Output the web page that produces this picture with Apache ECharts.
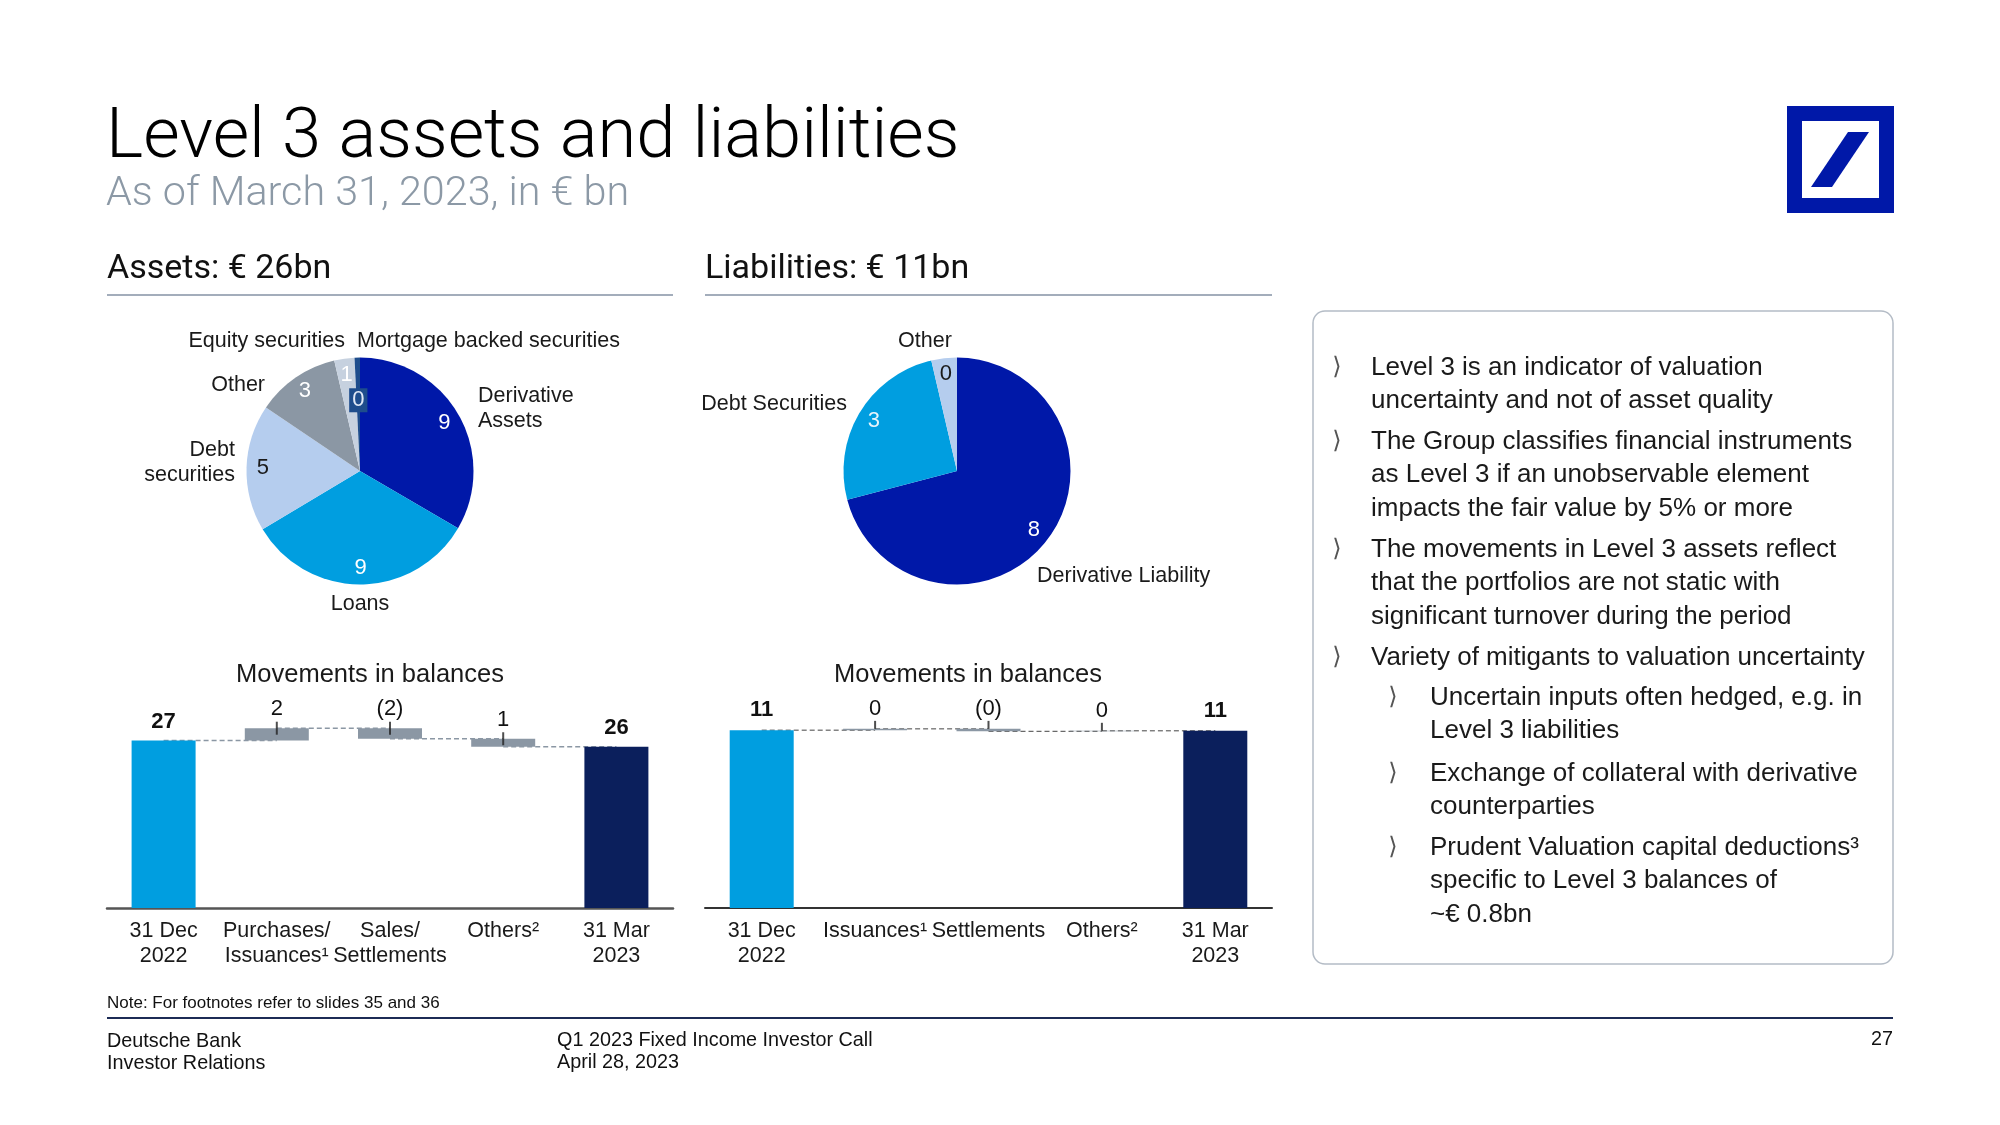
<!DOCTYPE html>
<html><head><meta charset="utf-8">
<script src="https://cdn.jsdelivr.net/npm/echarts@6/dist/echarts.min.js"></script>
<style>html,body{margin:0;padding:0;background:#fff}#c{width:2000px;height:1125px}</style>
</head><body><div id="c"></div>
<script>
// ---------- DATA ----------
const assetNames = ['Derivative\nAssets', 'Loans', 'Debt\nsecurities', 'Other', 'Equity securities', 'Mortgage backed securities'];
const assetValues = [8.7, 8.6, 4.7, 3.1, 0.75, 0.2];
const liabNames = ['Derivative Liability', 'Debt Securities', 'Other'];
const liabValues = [7.8, 2.8, 0.4];

const assetCats = ['31 Dec\n2022', 'Purchases/\nIssuances¹', 'Sales/\nSettlements', 'Others²', '31 Mar\n2023'];
const assetStart = 27.0;
const assetDeltas = [2.0, -1.7, -1.3];
const assetEnd = 26.0;
const assetBarLabels = ['27', '2', '(2)', '1', '26'];

const liabCats = ['31 Dec\n2022', 'Issuances¹', 'Settlements', 'Others²', '31 Mar\n2023'];
const liabStart = 11.0;
const liabDeltas = [0.08, -0.15, 0.03];
const liabEnd = 10.96;
const liabBarLabels = ['11', '0', '(0)', '0', '11'];

// ---------- STYLE ----------
const F = '"Liberation Sans", Arial, sans-serif';
const DBBLUE = '#0018a8', CYAN = '#009ee0', NAVY = '#0b1f5c', GRAY = '#8b97a4';
const assetColors = [DBBLUE, CYAN, '#b5cdee', GRAY, '#c6d1df', '#1e4d8c'];
const assetNumColors = ['#ffffff', '#ffffff', '#1a1a1a', '#ffffff', '#ffffff', '#e0e8f5'];
const liabColors = [DBBLUE, CYAN, '#b5cdee'];
const liabNumColors = ['#ffffff', '#e6f4fb', '#1a1a1a'];
const assetNamePos = [[478, 409, 'left'], [360, 604, 'center'], [235, 463, 'right'], [265, 385, 'right'], [345, 341, 'right'], [357, 341, 'left']];
const liabNamePos = [[1037, 576, 'left'], [847, 404, 'right'], [925, 341, 'center']];
const A_CENTER = [360, 471], L_CENTER = [957, 471], R = 113.5;

function waterfall(start, deltas, end) {
  const base = [0], vis = [start], levels = [start], ticks = [];
  let run = start;
  deltas.forEach((d, i) => {
    const nxt = run + d;
    base.push(Math.min(run, nxt));
    vis.push(Math.abs(d));
    ticks.push([i + 1, Math.max(run, nxt)]);
    run = nxt;
    levels.push(run);
  });
  base.push(0); vis.push(end);
  return { base, vis, levels, ticks };
}

function pieSeries(center, names, values, colors, numColors, namePos) {
  return [
    {
      type: 'pie', center, radius: R, startAngle: 90, clockwise: true, avoidLabelOverlap: false,
      silent: true, emphasis: { disabled: true }, z: 2,
      data: names.map((n, i) => ({ name: n, value: values[i], itemStyle: { color: colors[i] } })),
      label: { show: true, position: 'outside', formatter: '{b}', fontFamily: F, fontSize: 21.5, lineHeight: 25, color: '#1a1a1a' },
      labelLine: { show: false },
      labelLayout: p => { const q = namePos[p.dataIndex]; return { x: q[0], y: q[1], align: q[2], verticalAlign: 'middle' }; }
    },
    {
      type: 'pie', center, radius: [R * 0.66, R], startAngle: 90, clockwise: true, avoidLabelOverlap: false,
      silent: true, emphasis: { disabled: true }, z: 3,
      data: names.map((n, i) => ({
        name: n, value: values[i], itemStyle: { color: 'rgba(0,0,0,0)' },
        label: { show: !(names.length === 6 && i === 5), color: numColors[i] }
      })),
      label: { show: true, position: 'inside', formatter: p => String(Math.round(p.value)), fontFamily: F, fontSize: 22 },
      labelLine: { show: false }
    }
  ];
}

function wfSeries(idx, wf, labels, floatColor, connColor, connW, tickSize, tickOffset, dist) {
  const out = [];
  out.push({
    type: 'bar', xAxisIndex: idx, yAxisIndex: idx, stack: 's' + idx, barWidth: 64, silent: true, z: 3,
    itemStyle: { color: 'rgba(0,0,0,0)' }, data: wf.base, emphasis: { disabled: true }
  });
  out.push({
    type: 'bar', xAxisIndex: idx, yAxisIndex: idx, stack: 's' + idx, barWidth: 64, silent: true, z: 3,
    emphasis: { disabled: true },
    data: wf.vis.map((v, i) => ({
      value: v,
      itemStyle: { color: i === 0 ? CYAN : (i === wf.vis.length - 1 ? NAVY : floatColor) },
      label: { fontWeight: (i === 0 || i === wf.vis.length - 1) ? 'bold' : 'normal' }
    })),
    label: { show: true, position: 'top', distance: dist, formatter: p => labels[p.dataIndex], fontFamily: F, fontSize: 22, color: '#111' }
  });
  wf.levels.forEach((lv, i) => {
    out.push({
      type: 'line', xAxisIndex: idx, yAxisIndex: idx, data: [[i, lv], [i + 1, lv]], symbol: 'none', silent: true, z: 1,
      lineStyle: { color: connColor, width: connW, type: [5, 3] }
    });
  });
  out.push({
    type: 'scatter', xAxisIndex: idx, yAxisIndex: idx, symbol: 'rect', symbolSize: tickSize, symbolOffset: tickOffset,
    data: wf.ticks, itemStyle: { color: '#222' }, silent: true, z: 4
  });
  return out;
}

const aWF = waterfall(assetStart, assetDeltas, assetEnd);
const lWF = waterfall(liabStart, liabDeltas, liabEnd);

function T(text, x, y, font, fill, align, va, extra) {
  return Object.assign({
    type: 'text', x, y, silent: true,
    style: Object.assign({ text, font, fill: fill || '#1a1a1a', textAlign: align || 'left', align: align || 'left',
      textVerticalAlign: va || 'middle', verticalAlign: va || 'middle' }, extra || {})
  });
}
const BODY = '26px ' + F;
const LH = 33.3;
function para(text, x, firstY) {
  return T(text, x, firstY + 2 - LH / 2, BODY, '#1a1a1a', 'left', 'top', { lineHeight: LH });
}
function chev(x, y) { return T('⟩', x, y + 2, '24px "DejaVu Sans"', '#555', 'center', 'middle'); }

const graphic = [
  T('Level 3 assets and liabilities', 106, 139.5, '300 70.5px Roboto', '#000'),
  T('As of March 31, 2023, in € bn', 106, 195, '300 41.3px Roboto', '#8c99a6'),
  T('Assets: € 26bn', 107, 269, '34px Roboto', '#111'),
  T('Liabilities: € 11bn', 705, 269, '34px Roboto', '#111'),
  { type: 'line', silent: true, shape: { x1: 107, y1: 295, x2: 673, y2: 295 }, style: { stroke: '#a3adbb', lineWidth: 2 } },
  { type: 'line', silent: true, shape: { x1: 705, y1: 295, x2: 1272, y2: 295 }, style: { stroke: '#a3adbb', lineWidth: 2 } },
  // logo
  { type: 'rect', silent: true, shape: { x: 1787, y: 106, width: 107, height: 107 }, style: { fill: DBBLUE } },
  { type: 'rect', silent: true, shape: { x: 1802, y: 121, width: 77, height: 77 }, style: { fill: '#fff' } },
  { type: 'polygon', silent: true, shape: { points: [[1811, 187], [1832, 187], [1869, 132], [1848, 132]] }, style: { fill: DBBLUE } },
  // chart titles
  T('Movements in balances', 370, 674.5, '25.5px ' + F, '#1a1a1a', 'center'),
  T('Movements in balances', 968, 674.5, '25.5px ' + F, '#1a1a1a', 'center'),
  // right box
  { type: 'rect', silent: true, shape: { x: 1313, y: 311, width: 580, height: 653, r: 12 }, style: { fill: 'none', stroke: '#b4bcc6', lineWidth: 1.5 } },
  chev(1337, 366), para('Level 3 is an indicator of valuation\nuncertainty and not of asset quality', 1371, 366),
  chev(1337, 440), para('The Group classifies financial instruments\nas Level 3 if an unobservable element\nimpacts the fair value by 5% or more', 1371, 440),
  chev(1337, 548), para('The movements in Level 3 assets reflect\nthat the portfolios are not static with\nsignificant turnover during the period', 1371, 548),
  chev(1337, 656), para('Variety of mitigants to valuation uncertainty', 1371, 656),
  chev(1393, 696), para('Uncertain inputs often hedged, e.g. in\nLevel 3 liabilities', 1430, 696),
  chev(1393, 772), para('Exchange of collateral with derivative\ncounterparties', 1430, 772),
  chev(1393, 846), para('Prudent Valuation capital deductions³\nspecific to Level 3 balances of\n~€ 0.8bn', 1430, 846),
  // footer
  T('Note: For footnotes refer to slides 35 and 36', 107, 1003, '17px ' + F, '#111'),
  { type: 'line', silent: true, shape: { x1: 107, y1: 1018, x2: 1893, y2: 1018 }, style: { stroke: '#1c2b55', lineWidth: 2 } },
  T('Deutsche Bank', 107, 1042, '19.8px ' + F, '#111'),
  T('Investor Relations', 107, 1064, '19.8px ' + F, '#111'),
  T('Q1 2023 Fixed Income Investor Call', 557, 1041, '19.8px ' + F, '#111'),
  T('April 28, 2023', 557, 1063, '19.8px ' + F, '#111'),
  T('27', 1893, 1040, '19.8px ' + F, '#111', 'right')
];

const xAxisBase = (gi, cats, axisColor, axisW) => ({
  type: 'category', gridIndex: gi, data: cats,
  axisTick: { show: false },
  axisLine: { lineStyle: { color: axisColor, width: axisW } },
  axisLabel: { interval: 0, fontFamily: F, fontSize: 21.5, lineHeight: 25, color: '#1a1a1a', margin: 10.5 }
});

const option = {
  animation: false,
  backgroundColor: '#fff',
  grid: [
    { left: 107, top: 722, width: 566, height: 186 },
    { left: 705, top: 714, width: 567, height: 194 }
  ],
  xAxis: [xAxisBase(0, assetCats, '#555', 2.5), xAxisBase(1, liabCats, '#333', 2)],
  yAxis: [
    { type: 'value', gridIndex: 0, min: 0, max: 30, show: false },
    { type: 'value', gridIndex: 1, min: 0, max: 12, show: false }
  ],
  graphic,
  series: [].concat(
    pieSeries(A_CENTER, assetNames, assetValues, assetColors, assetNumColors, assetNamePos),
    [{
      type: 'pie', center: A_CENTER, radius: [22, R], startAngle: 90, clockwise: true, avoidLabelOverlap: false,
      silent: true, emphasis: { disabled: true }, z: 3,
      data: assetNames.map((n, i) => ({ name: n, value: assetValues[i], itemStyle: { color: 'rgba(0,0,0,0)' }, label: { show: i === 5 } })),
      label: { position: 'inside', formatter: p => String(Math.round(p.value)), fontFamily: F, fontSize: 22,
        color: assetNumColors[5], backgroundColor: assetColors[5], padding: [2, 3, 0, 3] },
      labelLine: { show: false }
    }],
    pieSeries(L_CENTER, liabNames, liabValues, liabColors, liabNumColors, liabNamePos),
    wfSeries(0, aWF, assetBarLabels, GRAY, '#8b97a4', 1.5, [2, 13], [0, 0], 8),
    wfSeries(1, lWF, liabBarLabels, GRAY, '#444', 1, [2, 8], [0, -4], 9)
  )
};

const chart = echarts.init(document.getElementById('c'), null, { renderer: 'canvas' });
chart.setOption(option);
</script>
</body></html>
